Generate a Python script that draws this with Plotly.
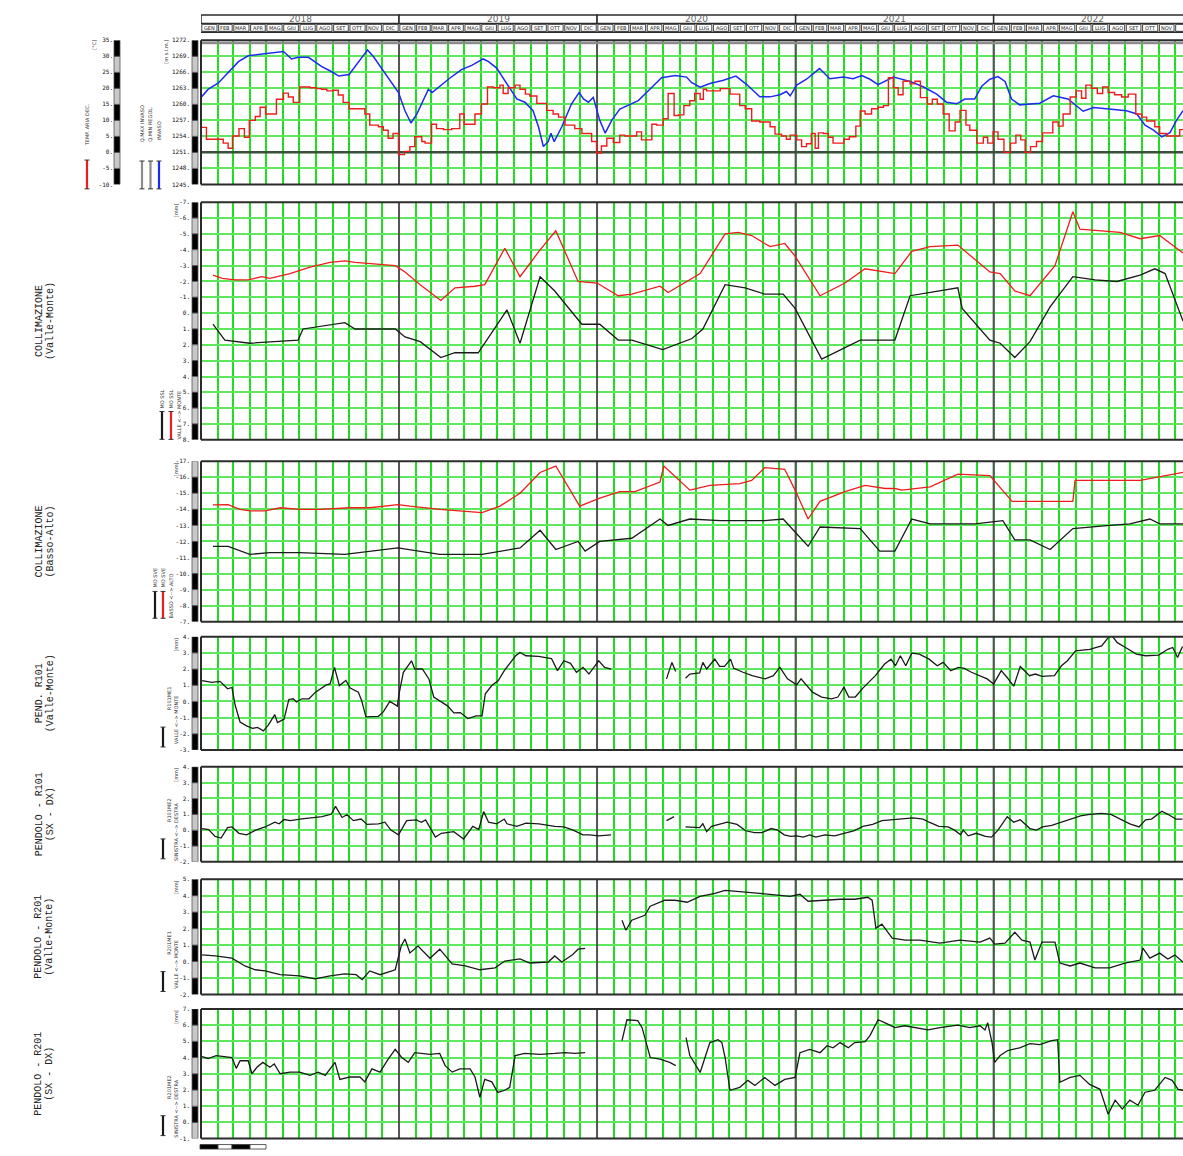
import pandas as pd
import plotly.graph_objects as go

W, H = 1183, 1156
T0 = pd.Timestamp("2018-01-01")
END_DAY = 1810          # last day shown (days after T0)
X_LEFT = 201            # left edge of the plotting frames (px)

# ---------------------------------------------------------------------------
# Data (time expressed as days after 2018-01-01)
# ---------------------------------------------------------------------------
# Reservoir level [m s.l.m.]
level_day = [0, 13, 32, 50, 69, 87, 112, 130, 152, 167, 179, 198, 222, 241, 254, 273, 284, 299, 307, 318,
             336, 364, 376, 387, 398, 413, 419, 426, 456, 480, 499, 520, 530, 545, 566, 582, 597, 612, 622, 631,
             640, 645, 651, 665, 683, 697, 705, 714, 723, 726, 735, 745, 757, 772, 788, 806, 824, 849, 874, 895,
             904, 920, 938, 963, 986, 1006, 1030, 1049, 1067, 1079, 1086, 1098, 1116, 1140, 1159, 1184, 1202, 1218, 1233, 1248,
             1276, 1307, 1331, 1356, 1374, 1393, 1408, 1426, 1439, 1454, 1469, 1482, 1494, 1509, 1546, 1571, 1598, 1626, 1645, 1675,
             1706, 1725, 1740, 1755, 1771, 1786, 1798, 1810]
level_val = [1261.3, 1262.8, 1264.0, 1265.9, 1268.0, 1269.1, 1269.4, 1269.7, 1269.9, 1268.5, 1268.8, 1268.8, 1267.1, 1266.1, 1265.3, 1265.6, 1267.1, 1269.2, 1270.2, 1268.9,
             1266.2, 1262.2, 1258.8, 1256.5, 1258.2, 1261.6, 1262.8, 1262.2, 1264.7, 1266.5, 1267.3, 1268.5, 1268.0, 1266.8, 1263.4, 1261.0, 1260.4, 1258.8, 1255.8, 1252.1,
             1253.0, 1254.6, 1253.0, 1255.8, 1260.1, 1262.2, 1261.0, 1260.4, 1261.3, 1260.1, 1257.0, 1254.6, 1257.0, 1259.1, 1259.8, 1260.7, 1262.5, 1265.0, 1265.4, 1265.1,
             1264.1, 1263.2, 1263.9, 1264.5, 1265.3, 1263.7, 1261.4, 1261.4, 1261.8, 1262.4, 1261.6, 1263.6, 1264.7, 1266.7, 1264.8, 1265.1, 1264.8, 1265.4, 1264.7, 1263.7,
             1265.1, 1264.3, 1263.3, 1261.9, 1260.4, 1260.1, 1261.0, 1261.0, 1263.4, 1264.7, 1265.2, 1264.3, 1261.0, 1259.9, 1260.2, 1261.6, 1261.0, 1258.7, 1259.4, 1259.1,
             1258.8, 1258.2, 1256.1, 1255.2, 1253.9, 1254.7, 1257.0, 1258.8]
Q_MAX_INVASO = 1271.5
Q_MIN_REGOL = 1251.0

# 10-day mean air temperature [°C] (step values, start day of each step)
temp_day = [0, 10, 41, 50, 58, 70, 80, 89, 100, 109, 119, 139, 152, 161, 170, 182, 201, 213, 222, 232,
            244, 253, 262, 273, 302, 311, 327, 336, 345, 354, 364, 375, 385, 394, 407, 413, 425, 434, 447, 462,
            477, 485, 505, 517, 528, 539, 551, 557, 566, 579, 588, 598, 606, 619, 637, 649, 659, 671, 689, 702,
            720, 729, 738, 748, 760, 772, 781, 803, 812, 831, 840, 852, 861, 872, 880, 890, 901, 910, 920, 926,
            932, 957, 975, 993, 1003, 1015, 1030, 1049, 1058, 1070, 1079, 1086, 1098, 1107, 1116, 1125, 1132, 1138, 1147, 1156,
            1165, 1185, 1195, 1207, 1215, 1224, 1236, 1248, 1258, 1267, 1276, 1285, 1294, 1307, 1316, 1326, 1339, 1348, 1357, 1368,
            1379, 1390, 1399, 1410, 1417, 1430, 1442, 1450, 1460, 1469, 1480, 1492, 1502, 1511, 1519, 1529, 1540, 1551, 1570, 1580,
            1589, 1602, 1613, 1623, 1631, 1641, 1652, 1662, 1672, 1684, 1697, 1709, 1723, 1734, 1743, 1758, 1767, 1780, 1804, 1810]
temp_val = [7.8, 4.1, 2.9, 1.3, 5.1, 7.4, 4.7, 10, 11.2, 14.1, 12, 16.6, 18.5, 17.3, 15.6, 20.4, 20.2, 19.9, 19.7, 19.2,
            19.4, 17.9, 15.6, 13.6, 12, 8.5, 8, 6.9, 4.4, 5.9, -0.7, 0.3, 1.8, 4.9, 3.4, 2.9, 8.8, 7.4, 7.1, 7.4,
            12, 8.8, 12, 15.1, 20.4, 20.2, 21, 18.4, 20.2, 21, 19.7, 18.2, 17.6, 15.3, 13.1, 12, 11, 8.5, 7.4, 5.9,
            3.4, -0.2, 2, 4.4, 3.1, 5.4, 5.1, 6.4, 3.9, 8.8, 8.5, 10.5, 18.4, 11.5, 11.7, 14.6, 16.1, 18.4, 16.6, 19.7,
            19.2, 19.9, 18.2, 14.6, 13.6, 9.8, 9.5, 8, 5.7, 5.1, 4.1, 5.4, 3.9, 1.8, 2.7, 5.9, 1.3, 6.1, 5.9, 4.7,
            2.9, 4.1, 4.9, 8.2, 12.9, 12, 13.6, 14.1, 14.6, 23.3, 20.2, 18, 22.2, 21.4, 22.2, 17.1, 15.1, 16.6, 15.1, 12,
            6.7, 9.5, 13.1, 8.5, 6.9, 2.9, 4.7, 2.9, 6.4, 4.1, 0, 2.9, 5.4, 3.9, 0, 1.8, 3.4, 6.1, 9.5, 8.2,
            12, 17.3, 19.2, 16.9, 21, 20, 18.4, 20.4, 18.7, 18, 17.3, 18.2, 12, 11, 9.8, 8, 5.9, 5.1, 7.1, 7.1]

# Collimation valle-monte [mm]
coll_vm_red_day = [22, 39, 63, 87, 112, 127, 164, 201, 238, 265, 284, 321, 358, 376, 404, 442, 468, 505, 523, 560,
                   588, 625, 654, 695, 730, 769, 794, 846, 861, 920, 966, 990, 1015, 1039, 1049, 1076, 1095, 1141, 1187, 1224,
                   1279, 1310, 1344, 1395, 1454, 1473, 1500, 1528, 1574, 1607, 1620, 1694, 1731, 1767, 1810]
coll_vm_red_val = [-2.4, -2.2, -2.1, -2.1, -2.3, -2.2, -2.5, -2.9, -3.2, -3.3, -3.2, -3.1, -3.0, -2.6, -1.8, -0.8, -1.6, -1.7, -1.8, -4.1,
                   -2.3, -4.0, -5.2, -2.0, -1.9, -1.1, -1.2, -1.7, -1.3, -2.5, -5.0, -5.1, -4.9, -4.4, -4.2, -4.4, -3.6, -1.1, -1.9, -2.8,
                   -2.5, -3.9, -4.2, -4.3, -2.6, -2.5, -1.4, -1.1, -3.0, -6.4, -5.3, -5.1, -4.7, -4.9, -3.8]
coll_vm_blk_day = [22, 44, 90, 136, 179, 188, 229, 265, 284, 358, 376, 404, 442, 468, 511, 529, 564, 588, 625, 652,
                   702, 735, 769, 794, 851, 905, 925, 966, 1003, 1039, 1073, 1095, 1122, 1144, 1215, 1279, 1307, 1344, 1395, 1403,
                   1454, 1473, 1500, 1528, 1565, 1607, 1648, 1688, 1731, 1758, 1777, 1810]
coll_vm_blk_val = [0.7, 1.7, 1.9, 1.8, 1.7, 1.0, 0.8, 0.6, 1.0, 1.0, 1.5, 1.8, 2.8, 2.5, 2.5, 1.6, -0.2, 1.9, -2.3, -1.4,
                   0.7, 0.7, 1.7, 1.7, 2.3, 1.6, 1.0, -1.8, -1.6, -1.2, -1.2, -0.3, 1.5, 2.9, 1.7, 1.7, -1.1, -1.3, -1.6, -0.3,
                   1.7, 1.9, 2.8, 1.8, -0.4, -2.3, -2.1, -2.0, -2.4, -2.8, -2.5, 0.5]

# Collimation basso-alto [mm]
coll_ba_red_day = [22, 50, 72, 90, 118, 146, 182, 219, 275, 311, 363, 385, 440, 477, 518, 551, 588, 625, 654, 698,
                   735, 772, 800, 846, 853, 901, 938, 993, 1015, 1039, 1076, 1095, 1119, 1141, 1187, 1224, 1261, 1279, 1292, 1344,
                   1395, 1454, 1495, 1528, 1607, 1611, 1648, 1731, 1810]
coll_ba_red_val = [-14.28, -14.3, -14.0, -13.9, -13.9, -14.1, -14.0, -14.0, -14.1, -14.1, -14.3, -14.2, -14.0, -13.9, -13.8, -14.2, -15.0, -16.3, -16.7, -14.2,
                   -14.7, -15.1, -15.1, -15.7, -16.7, -15.2, -15.5, -15.6, -15.8, -16.6, -16.5, -15.2, -13.4, -14.5, -15.1, -15.5, -15.3, -15.3, -15.2, -15.4,
                   -16.2, -16.1, -14.5, -14.5, -14.5, -15.8, -15.8, -15.8, -16.3]
coll_ba_blk_day = [22, 50, 90, 127, 182, 265, 363, 404, 440, 468, 518, 588, 625, 654, 695, 708, 735, 794, 846, 861,
                   901, 957, 1039, 1073, 1119, 1141, 1215, 1251, 1279, 1310, 1344, 1427, 1478, 1500, 1528, 1565, 1607, 1675, 1712, 1749,
                   1767, 1810]
coll_ba_blk_val = [-11.7, -11.7, -11.2, -11.3, -11.3, -11.2, -11.6, -11.4, -11.2, -11.2, -11.2, -11.6, -12.7, -11.5, -12.0, -11.4, -12.0, -12.2, -13.4, -13.0,
                   -13.4, -13.3, -13.3, -13.4, -11.7, -12.9, -12.8, -11.4, -11.4, -13.4, -13.1, -13.1, -13.3, -12.1, -12.1, -11.5, -12.8, -13.0, -13.1, -13.4,
                   -13.1, -13.1]

# Pendulum R101, valle-monte [mm]  (None = no readings)
r101_vm_day = [2, 20, 35, 43, 49, 57, 63, 72, 84, 95, 104, 115, 124, 136, 141, 153, 162, 170, 176, 186,
               199, 211, 223, 231, 238, 246, 255, 267, 275, 290, 296, 304, 327, 336, 348, 362, 365, 373, 388, 394,
               408, 420, 429, 443, 455, 466, 478, 492, 507, 518, 524, 536, 548, 559, 570, 580, 588, 599, 622, 634,
               646, 657, 669, 681, 692, 704, 715, 733, 744, 756, 800, 858, 868, 875, 884, 893, 901, 919, 925, 932, 947, 956,
               965, 976, 982, 999, 1016, 1040, 1055, 1067, 1081, 1098, 1106, 1127, 1144, 1162, 1174, 1185, 1194, 1206, 1220, 1243,
               1260, 1272, 1280, 1289, 1299, 1310, 1324, 1342, 1357, 1368, 1382, 1396, 1407, 1420, 1449, 1461, 1475, 1487, 1498, 1510,
               1527, 1538, 1550, 1573, 1586, 1597, 1612, 1638, 1660, 1677, 1689, 1704, 1724, 1741, 1765, 1782, 1791, 1800, 1809]
r101_vm_val = [1.29, 1.18, 1.24, 0.98, 0.78, 0.86, -0.24, -1.27, -1.51, -1.67, -1.61, -1.82, -1.47, -0.82, -1.31, -1.1, 0.12, 0.16, -0.04, 0.16,
               0.16, 0.57, 0.82, 1.02, 1.08, 2.1, 0.98, 1.29, 0.82, 0.57, 0.06, -0.96, -0.92, -0.65, 0, -0.29, 0.47, 1.8, 2.51, 2.0,
               2.0, 1.39, 0.27, -0.04, -0.29, -0.71, -0.69, -1.06, -0.9, -0.9, 0.47, 0.98, 1.29, 1.9, 2.37, 2.82, 3.02, 2.82, 2.78, 2.71,
               2.65, 1.9, 2.51, 2.35, 1.8, 2.1, 1.69, 2.51, 2.1, 2.0, None, 1.39, 2.41, 1.84, None, 1.43, 1.69, 1.76, 2.41, 2.0, 2.61, 2.16,
               2.16, 2.61, 2.04, 1.8, 1.59, 1.39, 1.59, 2.1, 1.39, 1.02, 1.39, 0.57, 0.27, 0.16, 0.27, 0.88, 0.27, 0.27, 0.82, 1.59,
               2.31, 2.61, 2.2, 2.82, 2.2, 2.98, 2.92, 2.61, 2.2, 2.41, 1.9, 2.1, 2.04, 1.8, 1.39, 1.08, 1.9, 1.43, 0.94, 2.16,
               1.59, 1.69, 1.55, 1.59, 2.2, 2.51, 3.12, 3.22, 3.43, 4.14, 3.63, 3.33, 2.92, 2.82, 2.86, 3.22, 3.33, 2.71, 3.39]

# Pendulum R101, sinistra-destra [mm]
r101_sd_day = [2, 14, 26, 37, 49, 57, 70, 84, 101, 118, 136, 144, 153, 165, 182, 199, 223, 240, 248, 260,
               269, 281, 295, 306, 327, 339, 350, 364, 379, 397, 406, 414, 432, 443, 466, 484, 501, 512, 521, 530,
               545, 559, 564, 582, 599, 623, 652, 669, 686, 704, 716, 733, 756, 807, 858, 872, 882, 893, 919, 925, 932, 941, 959, 970,
               988, 1004, 1020, 1034, 1051, 1063, 1075, 1087, 1098, 1110, 1122, 1133, 1150, 1168, 1185, 1203, 1220, 1238, 1255, 1272,
               1296, 1313, 1331, 1342, 1360, 1377, 1389, 1400, 1405, 1414, 1429, 1446, 1457, 1469, 1486, 1498, 1510, 1528, 1540, 1551,
               1568, 1586, 1603, 1621, 1638, 1660, 1677, 1694, 1712, 1729, 1741, 1752, 1771, 1782, 1797, 1809]
r101_sd_val = [0.1, 0.04, -0.4, -0.5, 0.16, 0.2, -0.2, -0.3, 0, 0.2, 0.5, 0.4, 0.67, 0.6, 0.7, 0.77, 0.85, 1.0, 1.5, 0.8,
               0.97, 0.6, 0.7, 0.36, 0.4, 0.5, 0, -0.3, 0.6, 0.65, 0.5, 0.65, -0.44, -0.2, -0.1, -0.56, 0.24, 0.04, 1.17, 0.5,
               0.4, 0.7, 0.4, 0.24, 0.44, 0.4, 0.24, 0.2, 0, -0.3, -0.3, -0.36, -0.3, None, 0.6, 0.85, None, 0.2, 0.16, 0.4, -0.1, 0.24, 0.4, 0.5,
               0.36, -0.04, -0.16, -0.16, 0.1, 0, -0.3, -0.4, -0.36, -0.44, -0.3, -0.44, -0.3, -0.36, -0.2, -0.04, 0.24, 0.36, 0.6, 0.65,
               0.7, 0.77, 0.7, 0.5, 0.24, 0.2, 0, -0.3, 0, -0.36, -0.2, -0.4, -0.44, 0, 0.85, 0.5, 0.65, 0.1, 0, 0.2,
               0.3, 0.5, 0.7, 0.9, 1.0, 1.06, 1.0, 0.7, 0.4, 0.2, 0.65, 0.7, 1.2, 1.0, 0.7, 0.7]

# Pendulum R201, valle-monte [mm]
r201_vm_day = [2, 26, 57, 81, 100, 118, 146, 182, 210, 238, 265, 286, 297, 311, 330, 358, 369, 376, 385, 400,
               422, 440, 463, 487, 514, 542, 560, 588, 606, 640, 652, 665, 684, 695, 708, 742,
               776, 783, 794, 818, 828, 855, 874, 896, 920, 947, 966, 990, 1030, 1086, 1104, 1119, 1150, 1178, 1205, 1229,
               1237, 1244, 1255, 1274, 1298, 1325, 1362, 1399, 1436, 1454, 1463, 1482, 1500, 1513, 1528, 1537, 1550, 1574, 1583, 1602,
               1620, 1648, 1675, 1703, 1731, 1736, 1749, 1767, 1782, 1795, 1810]
r201_vm_val = [0.4, 0.34, 0.2, -0.27, -0.5, -0.57, -0.8, -0.87, -1.05, -0.87, -0.75, -0.8, -1.1, -0.57, -0.8, -0.5, 0.94, 1.37, 0.52, 0.94,
               0.2, 0.75, -0.15, -0.27, -0.5, -0.38, 0.03, 0.16, -0.09, -0.03, 0.34, -0.03, 0.39, 0.75, 0.8, None,
               2.51, 1.9, 2.51, 2.81, 3.36, 3.72, 3.72, 3.6, 3.96, 4.14, 4.32, 4.26, 4.14, 3.96, 4.08, 3.66, 3.72, 3.78, 3.78, 3.9,
               3.72, 2.03, 2.27, 1.42, 1.3, 1.3, 1.12, 1.3, 1.18, 1.42, 1.06, 1.12, 1.78, 1.3, 1.18, 0.09, 1.18, 1.18, -0.09, -0.27,
               -0.09, -0.39, -0.39, -0.09, 0.09, 0.81, 0.21, 0.51, 0.15, 0.39, -0.03]

# Pendulum R201, sinistra-destra [mm]
r201_sd_day = [2, 13, 28, 57, 65, 72, 87, 94, 103, 114, 127, 135, 146, 164, 182, 201, 216, 229, 247, 256,
               275, 293, 302, 315, 330, 345, 358, 370, 382, 394, 422, 440, 450, 463, 477, 496, 505, 514, 523, 536,
               547, 560, 569, 579, 597, 625, 652, 671, 689, 708, 742, 776, 785, 805, 813, 828, 846, 864, 875, 884,
               894, 901, 920, 929, 938, 953, 960, 966, 975, 993, 1008, 1021, 1039, 1058, 1076, 1095, 1100, 1104, 1122, 1141,
               1154, 1165, 1178, 1193, 1205, 1224, 1233, 1248, 1261, 1279, 1297, 1321, 1340, 1362, 1395, 1417, 1436, 1445, 1450, 1458,
               1463, 1473, 1487, 1509, 1528, 1546, 1568, 1579, 1583, 1602, 1620, 1638, 1657, 1672, 1685, 1698, 1712, 1727, 1740, 1758,
               1777, 1790, 1801, 1810]
r201_sd_val = [4.06, 3.94, 4.12, 4.0, 3.33, 3.8, 3.8, 3.0, 3.4, 3.7, 3.4, 3.6, 3.0, 3.1, 3.1, 2.9, 3.1, 2.9, 3.7, 2.65,
               2.8, 2.8, 2.5, 3.3, 3.1, 3.9, 4.5, 4.0, 3.7, 4.3, 4.2, 4.25, 3.5, 3.1, 3.3, 3.3, 2.8, 1.55, 2.65, 2.5,
               1.85, 1.98, 2.16, 4.12, 4.25, 4.2, 4.25, 4.3, 4.25, 4.3, None, 5.04, 6.33, 6.27, 5.84, 4.0, 3.9, 3.7, 3.5, None,
               5.22, 4.12, 3.08, 4.0, 4.92, 5.1, 4.92, 4.0, 1.98, 2.16, 2.59, 2.28, 2.77, 2.28, 2.65, 2.77, 3.57, 4.3, 4.5, 4.3,
               4.73, 4.6, 4.92, 4.6, 4.92, 4.98, 5.35, 6.33, 6.14, 5.84, 5.96, 5.84, 5.7, 5.84, 6.0, 5.84, 5.96, 5.7, 6.14, 4.92,
               3.7, 4.12, 4.43, 4.6, 4.86, 4.8, 5.04, 5.1, 2.47, 2.77, 2.9, 2.34, 2.04, 0.5, 1.37, 0.82, 1.37, 1.06, 1.86, 1.98,
               2.77, 2.59, 2.04, 1.98]

YEARS = [2018, 2019, 2020, 2021, 2022]
MONTHS = ["GEN", "FEB", "MAR", "APR", "MAG", "GIU", "LUG", "AGO", "SET", "OTT", "NOV", "DIC"]

PANEL_TITLES = [
    None,
    ("COLLIMAZIONE", "(Valle-Monte)"),
    ("COLLIMAZIONE", "(Basso-Alto)"),
    ("PEND. R101", "(Valle-Monte)"),
    ("PENDOLO - R101", "(SX - DX)"),
    ("PENDOLO - R201", "(Valle-Monte)"),
    ("PENDOLO - R201", "(SX - DX)"),
]

# ---------------------------------------------------------------------------
# Helpers and styling
# ---------------------------------------------------------------------------
def to_dates(days):
    return [T0 + pd.Timedelta(days=d) for d in days]


def ts(d):
    return pd.Timestamp(d).strftime("%Y-%m-%d %H:%M:%S")


def fx(p):
    return p / W


def fy(p):
    return 1 - p / H


GREEN_V = "#1fdd1f"
GREEN_H = "#5fe85f"
YEAR_C = "#555555"
FRAME = "#2b2b2b"
RED = "#ee1c1c"
BLUE = "#1c2bef"
BLACK = "#1a1a1a"
TICK_FONT = dict(family="DejaVu Sans Mono", size=6, color="#111")
TITLE_FONT = dict(family="Liberation Mono", size=10, color="#222")
SMALL_FONT = dict(family="DejaVu Sans", size=5, color="#333")

# frame layout: top px, bottom px, value at bottom, value at top, tick step
panels = [
    (36.5, 181.5, 1245, 1272, 3),
    (199.5, 438.5, 8, -7, 1),
    (460.0, 621.5, -7, -17, 1),
    (636.5, 750.5, -3, 4, 1),
    (767.5, 863.0, -2, 4, 1),
    (880.5, 996.5, -2, 5, 1),
    (1011.0, 1141.5, -1, 7, 1),
]

x_range = [ts(T0), ts(T0 + pd.Timedelta(days=END_DAY))]

fig = go.Figure()
layout = dict(width=W, height=H, margin=dict(l=0, r=0, t=0, b=0),
              paper_bgcolor="white", plot_bgcolor="white", showlegend=False)
shapes, annotations = [], []


def sfx(i):
    return "" if i == 1 else str(i)


def vtext(x, y, text, font=SMALL_FONT):
    annotations.append(dict(x=fx(x), y=fy(y), xref="paper", yref="paper", text=text, textangle=-90,
                            showarrow=False, font=font, xanchor="center", yanchor="middle"))


def key_bar(x, y0, y1, color):
    shapes.append(dict(type="line", xref="paper", yref="paper", x0=fx(x), x1=fx(x), y0=fy(y0), y1=fy(y1),
                       line=dict(color=color, width=2.2), layer="above"))
    for yc in (y0, y1):
        shapes.append(dict(type="line", xref="paper", yref="paper", x0=fx(x - 2.5), x1=fx(x + 2.5),
                           y0=fy(yc), y1=fy(yc), line=dict(color="#333", width=1), layer="above"))


for i, (top, bot, vb, vt, step) in enumerate(panels, start=1):
    s = sfx(i)
    xa = dict(domain=[fx(X_LEFT), 1], range=x_range, anchor="y" + s, type="date",
              showgrid=True, gridcolor=GREEN_V, gridwidth=1.5, dtick="M1", tick0="2018-01-01",
              showticklabels=False, ticks="", zeroline=False, showline=False)
    if i > 1:
        xa["matches"] = "x"
    layout["xaxis" + s] = xa
    lo, hi = min(vb, vt), max(vb, vt)
    tv = list(range(lo, hi + 1, step))
    layout["yaxis" + s] = dict(domain=[fy(bot), fy(top)], range=[vb, vt], anchor="x" + s,
                               tickvals=tv, ticktext=[f"{v}." for v in tv],
                               showgrid=True, gridcolor=GREEN_H, gridwidth=2, zeroline=False,
                               ticks="", ticklabelstandoff=10, tickfont=TICK_FONT, showline=False)
    # year separators
    xx, yy = [], []
    for yr in YEARS[1:]:
        d = ts(f"{yr}-01-01")
        xx += [d, d, None]
        yy += [vb, vt, None]
    fig.add_trace(go.Scatter(x=xx, y=yy, mode="lines", line=dict(color=YEAR_C, width=2),
                             xaxis="x" + s, yaxis="y" + s, hoverinfo="skip"))
    # frame (left, top, bottom)
    for (x0, y0, x1, y1) in [(X_LEFT, top, X_LEFT, bot), (X_LEFT, top, W + 5, top), (X_LEFT, bot, W + 5, bot)]:
        shapes.append(dict(type="line", xref="paper", yref="paper", x0=fx(x0), y0=fy(y0), x1=fx(x1), y1=fy(y1),
                           line=dict(color=FRAME, width=2), layer="above"))
    # alternating scale bar next to the tick labels
    for k in range(len(tv) - 1):
        black = (len(tv) - 2 - k) % 2 == 0
        shapes.append(dict(type="rect", xref="paper", yref="y" + s, x0=fx(192), x1=fx(198),
                           y0=tv[k], y1=tv[k + 1], fillcolor="#000" if black else "#c8c8c8",
                           line=dict(color="#555", width=0.8), layer="above"))
    # unit label and panel title
    if i > 1:
        vtext(176, top + 8, "[mm]")
        t1, t2 = PANEL_TITLES[i - 1]
        vtext(39, (top + bot) / 2, t1, TITLE_FONT)
        vtext(50, (top + bot) / 2, t2, TITLE_FONT)

# temperature axis (second scale of the top frame)
temp_ticks = list(range(-10, 36, 5))
layout["yaxis8"] = dict(overlaying="y", anchor="free", position=fx(121), side="left", range=[-10, 35],
                        tickvals=temp_ticks, ticktext=[f"{v}." for v in temp_ticks], showgrid=False,
                        zeroline=False, ticks="", ticklabelstandoff=8, tickfont=TICK_FONT, showline=False)
for k in range(len(temp_ticks) - 1):
    black = (len(temp_ticks) - 2 - k) % 2 == 0
    shapes.append(dict(type="rect", xref="paper", yref="y8", x0=fx(114), x1=fx(120),
                       y0=temp_ticks[k], y1=temp_ticks[k + 1], fillcolor="#000" if black else "#c8c8c8",
                       line=dict(color="#555", width=0.8), layer="above"))

# ---------------------------------------------------------------------------
# Traces
# ---------------------------------------------------------------------------
span = [ts(T0), ts(T0 + pd.Timedelta(days=END_DAY))]
fig.add_trace(go.Scatter(x=span, y=[Q_MAX_INVASO] * 2, mode="lines", line=dict(color="#8c8c8c", width=2.5),
                         xaxis="x", yaxis="y", name="Q.MAX INVASO"))
fig.add_trace(go.Scatter(x=span, y=[Q_MIN_REGOL] * 2, mode="lines", line=dict(color="#3b4d3b", width=2.5),
                         xaxis="x", yaxis="y", name="Q.MIN REGOL."))
fig.add_trace(go.Scatter(x=to_dates(temp_day), y=temp_val, mode="lines", line=dict(color=RED, width=1.4, shape="hv"),
                         xaxis="x", yaxis="y8", name="TEMP. ARIA DEC."))
fig.add_trace(go.Scatter(x=to_dates(level_day), y=level_val, mode="lines", line=dict(color=BLUE, width=1.5),
                         xaxis="x", yaxis="y", name="INVASO"))

series = [
    (2, coll_vm_red_day, coll_vm_red_val, RED),
    (2, coll_vm_blk_day, coll_vm_blk_val, BLACK),
    (3, coll_ba_red_day, coll_ba_red_val, RED),
    (3, coll_ba_blk_day, coll_ba_blk_val, BLACK),
    (4, r101_vm_day, r101_vm_val, BLACK),
    (5, r101_sd_day, r101_sd_val, BLACK),
    (6, r201_vm_day, r201_vm_val, BLACK),
    (7, r201_sd_day, r201_sd_val, BLACK),
]
for p, dd, vv, col in series:
    fig.add_trace(go.Scatter(x=to_dates(dd), y=vv, mode="lines", connectgaps=False,
                             line=dict(color=col, width=1.3), xaxis="x" + sfx(p), yaxis="y" + sfx(p)))

# ---------------------------------------------------------------------------
# Calendar header
# ---------------------------------------------------------------------------
for yr in YEARS:
    a, b = pd.Timestamp(f"{yr}-01-01"), pd.Timestamp(f"{yr + 1}-01-01")
    shapes.append(dict(type="rect", xref="x", yref="paper", x0=ts(a), x1=ts(b), y0=fy(19.5), y1=fy(11),
                       line=dict(color=FRAME, width=1.5), fillcolor="white", layer="above"))
    annotations.append(dict(x=ts(a + (b - a) / 2), y=fy(15.5), xref="x", yref="paper", text=str(yr),
                            showarrow=False, xanchor="center", yanchor="middle",
                            font=dict(family="DejaVu Sans", size=9, color="#666")))
    for m in range(12):
        ms = pd.Timestamp(yr, m + 1, 1)
        me = ms + pd.offsets.MonthBegin(1)
        shapes.append(dict(type="rect", xref="x", yref="paper",
                           x0=ts(ms + pd.Timedelta(days=1.5)), x1=ts(me - pd.Timedelta(days=1.5)),
                           y0=fy(27.5), y1=fy(20.5), line=dict(color="#444", width=1), fillcolor="white",
                           layer="above"))
        annotations.append(dict(x=ts(ms + (me - ms) / 2), y=fy(24), xref="x", yref="paper", text=MONTHS[m],
                                showarrow=False, xanchor="center", yanchor="middle",
                                font=dict(family="DejaVu Sans", size=5, color="#222")))
shapes.append(dict(type="line", xref="paper", yref="paper", x0=fx(X_LEFT), x1=1, y0=fy(28.5), y1=fy(28.5),
                   line=dict(color=FRAME, width=1.5), layer="above"))

# ---------------------------------------------------------------------------
# Top frame legend and unit labels
# ---------------------------------------------------------------------------
vtext(94, 41, "[°C]")
vtext(166, 48, "[m s.l.m.]")
vtext(87, 122, "TEMP. ARIA DEC.")
key_bar(87, 157, 186, RED)
vtext(142, 121, "Q.MAX INVASO")
vtext(150.5, 121, "Q.MIN REGOL.")
vtext(159, 128, "INVASO")
key_bar(142, 158, 186, "#8c8c8c")
key_bar(150.5, 158, 186, "#8c8c8c")
key_bar(159, 158, 186, BLUE)

# Legends of the displacement frames
vtext(162, 398, "MO SSL")
vtext(171, 398, "MO SSL")
key_bar(162, 410, 438, BLACK)
key_bar(171, 410, 438, RED)
vtext(179, 413, "VALLE &lt;--&gt; MONTE")

vtext(155, 577, "MO SVE")
vtext(163, 577, "MO SVE")
key_bar(155, 591, 618, BLACK)
key_bar(163, 591, 618, RED)
vtext(171, 596, "BASSO &lt;--&gt; ALTO")

for bot, code, direction in [(750.5, "R101ME1", "VALLE &lt;--&gt; MONTE"),
                             (863.0, "R101ME2", "SINISTRA &lt;--&gt; DESTRA"),
                             (996.5, "R201ME1", "VALLE &lt;--&gt; MONTE"),
                             (1141.5, "R201ME2", "SINISTRA &lt;--&gt; DESTRA")]:
    vtext(169, bot - 52, code)
    vtext(176, bot - 30, direction)
    key_bar(163, bot - 23, bot - 3, BLACK)

# small scale bar under the last frame
for k, (a, b) in enumerate([(200, 218), (218, 232), (232, 250), (250, 266)]):
    shapes.append(dict(type="rect", xref="paper", yref="paper", x0=fx(a), x1=fx(b), y0=fy(1152), y1=fy(1147.5),
                       fillcolor="#000" if k % 2 == 0 else "white", line=dict(color="#333", width=0.8)))

layout["shapes"] = shapes
layout["annotations"] = annotations
fig.update_layout(**layout)
fig.write_html("out.html")
